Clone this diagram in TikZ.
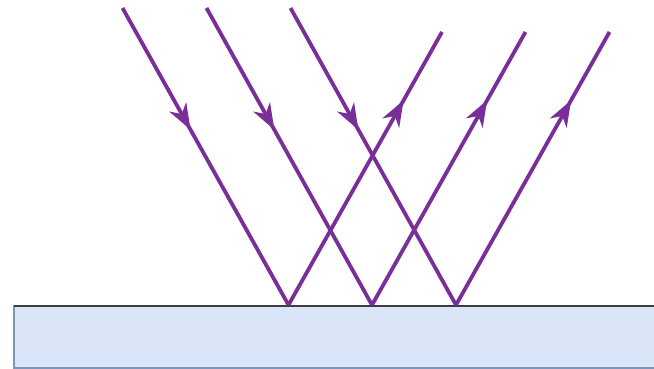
\documentclass[tikz,border=0pt]{standalone}
\usetikzlibrary{arrows.meta,decorations.markings}
\definecolor{ray}{RGB}{122,46,152}
\definecolor{glassfill}{RGB}{218,230,247}
\definecolor{glassedge}{RGB}{120,150,190}
\definecolor{surf}{RGB}{60,60,66}
\tikzset{
  raydown/.style={draw=ray,line width=3.8pt,postaction={decorate},
    decoration={markings,mark=at position 0.41 with {\arrow{Stealth[length=26pt,width=19pt,inset=8pt]}}}},
  rayup/.style={draw=ray,line width=3.8pt,postaction={decorate},
    decoration={markings,mark=at position 0.75 with {\arrow{Stealth[length=26pt,width=19pt,inset=8pt]}}}},
}
\begin{document}
\begin{tikzpicture}[x=1pt,y=-1pt]
\useasboundingbox (0,0) rectangle (654,369);
\fill[white] (0,0) rectangle (654,369);
% glass block
\filldraw[fill=glassfill,draw=glassedge,line width=1.5pt] (14,306) rectangle (670,368);
\draw[surf,line width=2.5pt] (14,306) -- (670,306);
% points
\coordinate (s1) at (122.5,8);
\coordinate (s2) at (206.5,8);
\coordinate (s3) at (290.5,8);
\coordinate (p1) at (288.5,305);
\coordinate (p2) at (372,305);
\coordinate (p3) at (456,305);
\coordinate (e1) at (442,32);
\coordinate (e2) at (525.5,32);
\coordinate (e3) at (609.5,32);
% rays
\draw[raydown] (s1) -- (p1);
\draw[raydown] (s2) -- (p2);
\draw[raydown] (s3) -- (p3);
\draw[rayup] (p1) -- (e1);
\draw[rayup] (p2) -- (e2);
\draw[rayup] (p3) -- (e3);
\end{tikzpicture}
\end{document}
